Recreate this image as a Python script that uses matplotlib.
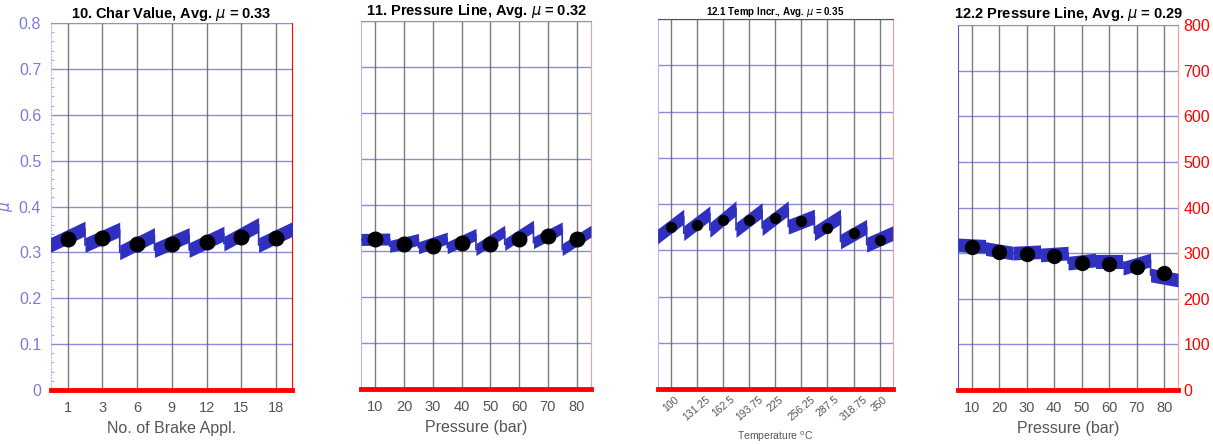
import numpy as np
import matplotlib.pyplot as plt
from matplotlib.ticker import MultipleLocator

plt.rcParams['font.family'] = ['Liberation Sans Narrow', 'Liberation Sans', 'DejaVu Sans']
plt.rcParams['mathtext.fontset'] = 'dejavusans'

BAND = '#2f2fc0'
HGRID = '#5a5ac8'
VGRID = '#6e6e6e'
TICK_GRAY = '#555555'

# 10. characteristic value, one sawtooth segment per brake application
appl_labels = ['1', '3', '6', '9', '12', '15', '18']
appl_start = [0.316, 0.316, 0.300, 0.305, 0.305, 0.319, 0.316]
appl_end = [0.352, 0.350, 0.338, 0.338, 0.341, 0.360, 0.352]
appl_mu = [0.330, 0.332, 0.318, 0.319, 0.322, 0.334, 0.332]

# 11. pressure line
press_bar = [10, 20, 30, 40, 50, 60, 70, 80]
press_start = [0.325, 0.310, 0.307, 0.307, 0.303, 0.314, 0.318, 0.303]
press_end = [0.326, 0.325, 0.328, 0.336, 0.343, 0.354, 0.350, 0.343]
press_mu = [0.325, 0.315, 0.310, 0.318, 0.315, 0.326, 0.332, 0.326]

# 12.1 temperature increase
temp_c = [100, 131.25, 162.5, 193.75, 225, 256.25, 287.5, 318.75, 350]
temp_start = [0.330, 0.337, 0.344, 0.344, 0.348, 0.351, 0.337, 0.319, 0.312]
temp_end = [0.373, 0.380, 0.391, 0.387, 0.391, 0.373, 0.373, 0.351, 0.337]
temp_mu = [0.351, 0.355, 0.366, 0.366, 0.369, 0.364, 0.349, 0.337, 0.323]

# 12.2 pressure line (mu x 1000)
press2_start = [318, 310, 300, 296, 278, 281, 267, 252]
press2_end = [315, 300, 303, 300, 285, 281, 285, 241]
press2_mu = [314, 302, 298, 294, 279, 276, 270, 257]


def draw_saw(ax, centers, width, starts, ends, half):
    # thick band per segment, thin drop between segments
    xs, ys = [], []
    for c, s, e in zip(centers, starts, ends):
        x = np.array([c - width / 2, c + width / 2])
        y = np.array([s, e])
        ax.fill_between(x, y - half, y + half, color=BAND, lw=0, zorder=3)
        xs += list(x)
        ys += list(y)
    ax.plot(xs, ys, color=BAND, lw=1.2, zorder=3)


def style_axes(ax, ymax, ystep):
    ax.set_ylim(0, ymax)
    ax.yaxis.set_major_locator(MultipleLocator(ystep))
    ax.grid(axis='y', color=HGRID, lw=1, alpha=0.7, zorder=1)
    ax.grid(axis='x', color=VGRID, lw=1, alpha=0.9, zorder=1)
    ax.axhline(0, color='red', lw=3.5, zorder=4, clip_on=False)
    ax.spines['left'].set_color('#b8b8f0')
    ax.spines['right'].set_color('#ff9a9a')
    ax.spines['top'].set_color('#999999')
    ax.spines['bottom'].set_visible(False)
    ax.tick_params(axis='x', length=0, colors=TICK_GRAY, labelsize=10.5, pad=8)
    ax.tick_params(axis='y', length=0)


fig = plt.figure(figsize=(12.13, 4.44), dpi=100)
fig.set_facecolor('w')

# panel 10
ax1 = fig.add_axes([0.042, 0.1216, 0.1987, 0.8266])
pos = np.arange(len(appl_labels))
draw_saw(ax1, pos, 1.0, appl_start, appl_end, 0.016)
ax1.scatter(pos, appl_mu, s=110, color='black', zorder=5)
ax1.set_xlim(-0.48, 6.46)
ax1.set_xticks(pos)
ax1.set_xticklabels(appl_labels)
style_axes(ax1, 0.8, 0.1)
ax1.set_yticks(np.arange(0, 0.81, 0.1))
ax1.set_yticklabels(['0', '0.1', '0.2', '0.3', '0.4', '0.5', '0.6', '0.7', '0.8'])
ax1.yaxis.set_minor_locator(MultipleLocator(0.02))
ax1.tick_params(axis='y', which='major', colors='#7b7bdc', labelsize=11.5, pad=7)
ax1.tick_params(axis='y', which='minor', length=2, color='#9a9ae6', direction='in')
ax1.spines['left'].set_linestyle(':')
ax1.spines['right'].set_color('red')
ax1.spines['top'].set_linestyle(':')
ax1.set_ylabel(r'$\mu$', color='#7b7bdc', fontsize=11)
ax1.yaxis.set_label_coords(-0.15, 0.5)
ax1.set_xlabel('No. of Brake Appl.', color=TICK_GRAY, fontsize=11.5, labelpad=4)
ax1.set_title(r'10. Char Value, Avg. $\mu$ = 0.33', fontsize=10.5, fontweight='bold', pad=3)

# panel 11
ax2 = fig.add_axes([0.2976, 0.1239, 0.1896, 0.829])
draw_saw(ax2, press_bar, 10, press_start, press_end, 0.013)
ax2.scatter(press_bar, press_mu, s=110, color='black', zorder=5)
ax2.set_xlim(5, 85)
ax2.set_xticks(press_bar)
style_axes(ax2, 0.8, 0.1)
ax2.set_yticklabels([])
ax2.set_xlabel('Pressure (bar)', color=TICK_GRAY, fontsize=11.5, labelpad=4)
ax2.set_title(r'11. Pressure Line, Avg. $\mu$ = 0.32', fontsize=10.5, fontweight='bold', pad=4)

# panel 12.1
ax3 = fig.add_axes([0.5425, 0.1239, 0.1937, 0.833])
draw_saw(ax3, temp_c, 31.25, temp_start, temp_end, 0.016)
ax3.scatter(temp_c, temp_mu, s=50, color='black', zorder=5)
ax3.set_xlim(84.9, 365.9)
ax3.set_xticks(temp_c)
ax3.set_xticklabels([f'{t:g}' for t in temp_c])
style_axes(ax3, 0.8, 0.1)
ax3.set_yticklabels([])
ax3.tick_params(axis='x', labelsize=7.5, rotation=40, pad=4)
ax3.spines['top'].set_color('#555555')
ax3.set_xlabel(r'Temperature $^{\rm o}$C', color=TICK_GRAY, fontsize=7.5, labelpad=5)
ax3.set_title(r'12.1 Temp Incr., Avg. $\mu$ = 0.35', fontsize=7, fontweight='bold', pad=3)

# panel 12.2
ax4 = fig.add_axes([0.7898, 0.1216, 0.1814, 0.8221])
draw_saw(ax4, press_bar, 10, press2_start, press2_end, 15)
ax4.scatter(press_bar, press2_mu, s=100, color='black', zorder=5)
ax4.set_xlim(5, 85)
ax4.set_xticks(press_bar)
style_axes(ax4, 800, 100)
ax4.yaxis.tick_right()
ax4.tick_params(axis='y', colors='red', labelsize=11.5, pad=4)
ax4.spines['left'].set_color('#5a5ad0')
ax4.set_xlabel('Pressure (bar)', color=TICK_GRAY, fontsize=11.5, labelpad=4)
ax4.set_title(r'12.2 Pressure Line, Avg. $\mu$ = 0.29', fontsize=10.5, fontweight='bold', pad=5)

fig.savefig('out.png', dpi=100)
